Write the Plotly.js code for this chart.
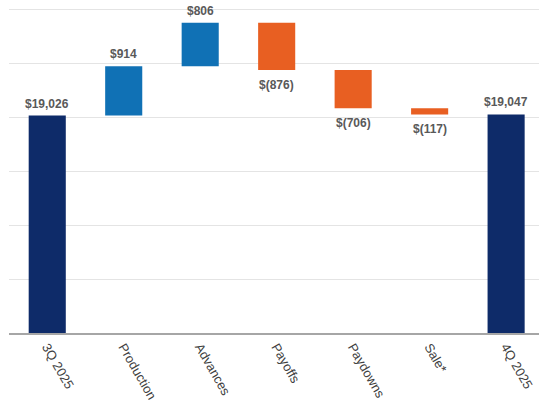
<!DOCTYPE html>
<html>
<head>
<meta charset="utf-8">
<script src="https://cdn.plot.ly/plotly-3.0.1.min.js"></script>
<style>
  html, body { margin: 0; padding: 0; background: #ffffff; }
  #chart { width: 539px; height: 417px; }
</style>
</head>
<body>
<div id="chart"></div>
<script>
// Quarter-over-quarter loan balance walk ($ millions)
const categories = ['3Q 2025', 'Production', 'Advances', 'Payoffs', 'Paydowns', 'Sale*', '4Q 2025'];
const measures   = ['absolute', 'relative', 'relative', 'relative', 'relative', 'relative', 'total'];
const values     = [19026, 914, 806, -876, -706, -117, 19047];

// $1,234 for positives, $(1,234) for negatives
function money(v) {
  const s = Math.abs(v).toLocaleString('en-US');
  return v < 0 ? '$(' + s + ')' : '$' + s;
}

const NAVY = '#0E2B69';
const BLUE = '#1071B5';
const ORANGE = '#E85F22';
const LABEL_FONT = { family: 'Liberation Sans, Arial, sans-serif', size: 12, color: '#595959', weight: 'bold' };

// Value labels: above the bar end for gains and totals, below it for declines
let running = 0;
const annotations = categories.map((c, i) => {
  const v = values[i];
  let top, bottom;
  if (measures[i] === 'relative') {
    top = Math.max(running, running + v);
    bottom = Math.min(running, running + v);
    running += v;
  } else {
    running = v;
    top = v;
    bottom = 0;
  }
  const neg = v < 0;
  return {
    x: c,
    y: neg ? bottom : top,
    xref: 'x',
    yref: 'y',
    text: money(v),
    showarrow: false,
    yanchor: neg ? 'top' : 'bottom',
    yshift: neg ? -6 : 3,
    font: LABEL_FONT
  };
});

const trace = {
  type: 'waterfall',
  x: categories,
  y: values.map((v, i) => measures[i] === 'total' ? 0 : v),
  measure: measures,
  width: 0.485,
  increasing: { marker: { color: BLUE } },
  decreasing: { marker: { color: ORANGE } },
  totals: { marker: { color: NAVY } },
  connector: { visible: false },
  hoverinfo: 'x+y'
};

const layout = {
  width: 539,
  height: 417,
  margin: { l: 9, r: 0, t: 0, b: 84 },
  paper_bgcolor: '#ffffff',
  plot_bgcolor: '#ffffff',
  showlegend: false,
  annotations: annotations,
  xaxis: {
    range: [-0.5, 6.43],
    tickangle: 60,
    tickfont: { family: 'Liberation Sans, Arial, sans-serif', size: 13, color: '#404040' },
    showline: true,
    linecolor: '#a6a6a6',
    linewidth: 1.5,
    ticks: '',
    showgrid: false,
    fixedrange: true
  },
  yaxis: {
    range: [15000, 21167],
    dtick: 1000,
    tick0: 15000,
    showticklabels: false,
    showgrid: true,
    gridcolor: '#e4e4e4',
    gridwidth: 1,
    zeroline: false,
    fixedrange: true
  }
};

Plotly.newPlot('chart', [trace], layout, { displayModeBar: false, staticPlot: true });
</script>
</body>
</html>
